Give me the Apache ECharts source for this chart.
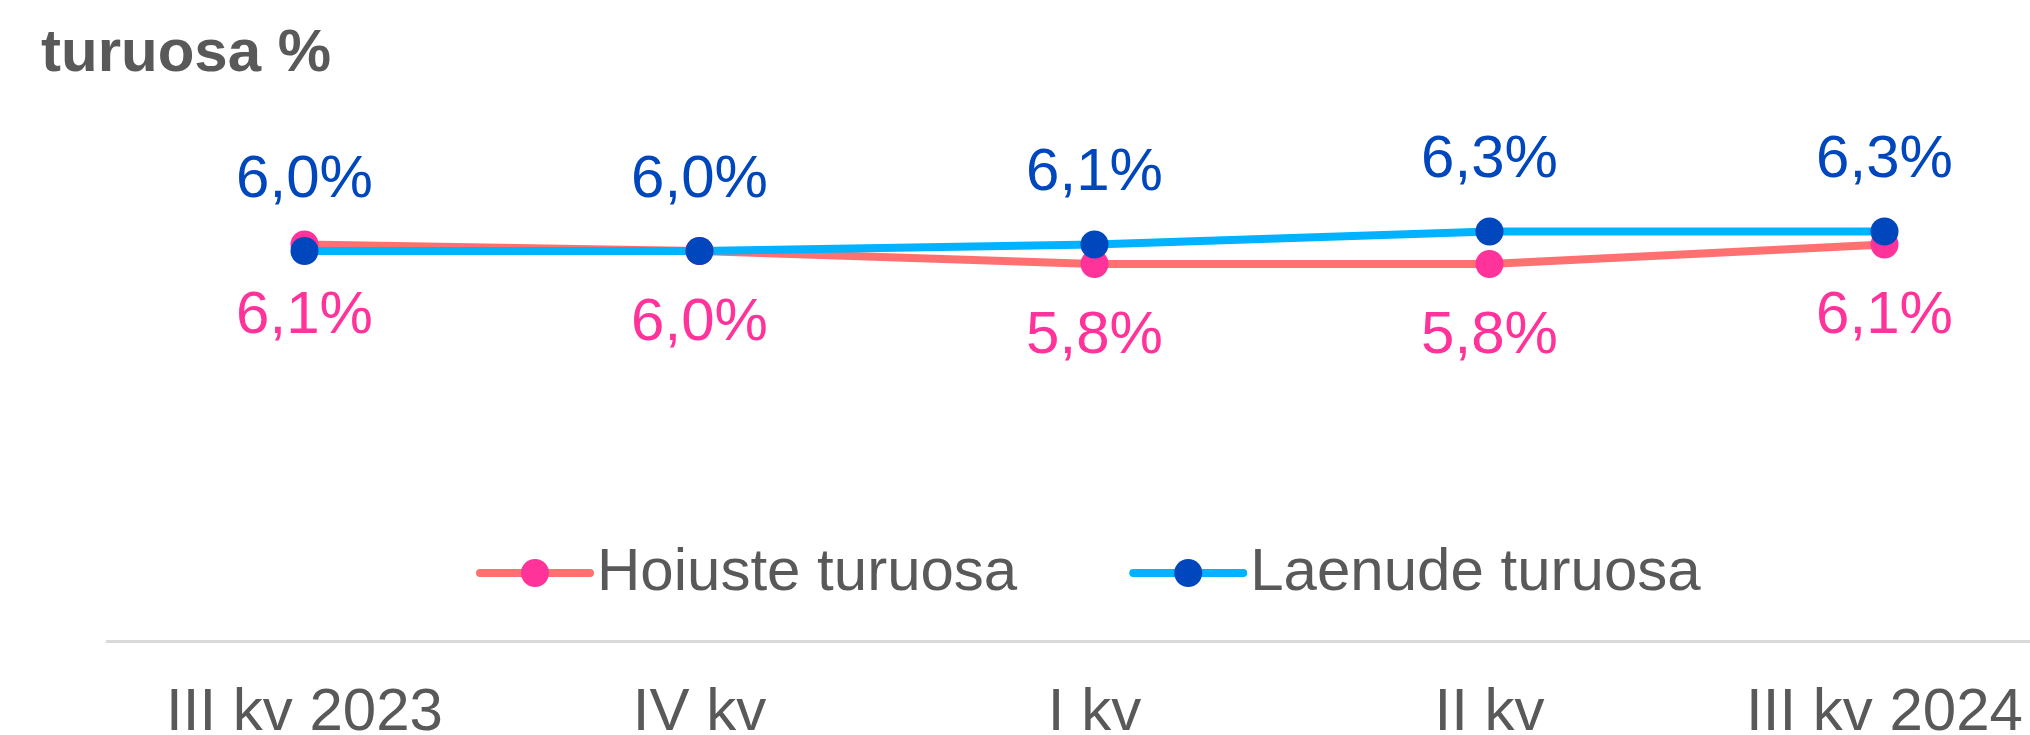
<!DOCTYPE html>
<html>
<head>
	<meta charset="utf-8">
	<title>turuosa</title>
	<script type="text/javascript" src="https://cdn.jsdelivr.net/npm/echarts@6/dist/echarts.min.js"></script>
<style type="text/css">
html, body {
	margin: 0;
	padding: 0;
	background: #fff;
}

#main {
	width: 2030px;
	height: 735px;
}
</style>
</head>
<body>
	<div id="main"></div>

<script type="text/javascript">

// kvartalid
var categories = ['III kv 2023', 'IV kv', 'I kv', 'II kv', 'III kv 2024'];

// turuosa, %
var hoiuste = [6.1, 6.0, 5.8, 5.8, 6.1];
var laenude = [6.0, 6.0, 6.1, 6.3, 6.3];

var seriesNames = ['Hoiuste turuosa', 'Laenude turuosa'];

var FONT = "'Liberation Sans', Arial, sans-serif";

function fmt(p)
{
	return p.value.toFixed(1).replace('.', ',') + '%';
}

var chart = echarts.init(document.getElementById('main'));

var option = {
	animation: false,
	title: {
		text: 'turuosa %',
		left: 41,
		top: 24,
		padding: 0,
		textStyle: {
			fontFamily: FONT,
			fontSize: 60,
			fontWeight: 'bold',
			color: '#595959'
		}
	},
	legend: {
		data: seriesNames,
		left: 476,
		top: 543,
		padding: 0,
		itemWidth: 110,
		itemHeight: 35,
		itemGap: 112,
		lineStyle: {width: 8, cap: 'round'},
		textStyle: {
			fontFamily: FONT,
			fontSize: 60,
			color: '#595959',
			padding: [0, 0, 0, 2]
		}
	},
	grid: {
		left: 107,
		width: 1975,
		top: 121,
		bottom: 94,
		outerBoundsMode: 'none'
	},
	xAxis: {
		type: 'category',
		data: categories,
		boundaryGap: true,
		axisLine: {lineStyle: {color: '#d9d9d9', width: 3}},
		axisTick: {show: false},
		axisLabel: {
			margin: 42,
			fontFamily: FONT,
			fontSize: 60,
			color: '#595959'
		}
	},
	yAxis: {
		type: 'value',
		min: 0,
		max: 8,
		show: false,
		splitLine: {show: false}
	},
	series: [
		{
			name: seriesNames[0],
			type: 'line',
			data: hoiuste,
			symbol: 'circle',
			symbolSize: 28,
			lineStyle: {color: '#ff7171', width: 8},
			itemStyle: {color: '#ff3399'},
			label: {
				show: true,
				position: 'bottom',
				distance: 28,
				formatter: fmt,
				fontFamily: FONT,
				fontSize: 60,
				color: '#ff3399'
			}
		},
		{
			name: seriesNames[1],
			type: 'line',
			data: laenude,
			symbol: 'circle',
			symbolSize: 28,
			lineStyle: {color: '#00b2ff', width: 8},
			itemStyle: {color: '#0047bd'},
			label: {
				show: true,
				position: 'top',
				distance: 27,
				formatter: fmt,
				fontFamily: FONT,
				fontSize: 60,
				color: '#0047bd'
			}
		}
	]
};

chart.setOption(option);
</script>
</body>
</html>
